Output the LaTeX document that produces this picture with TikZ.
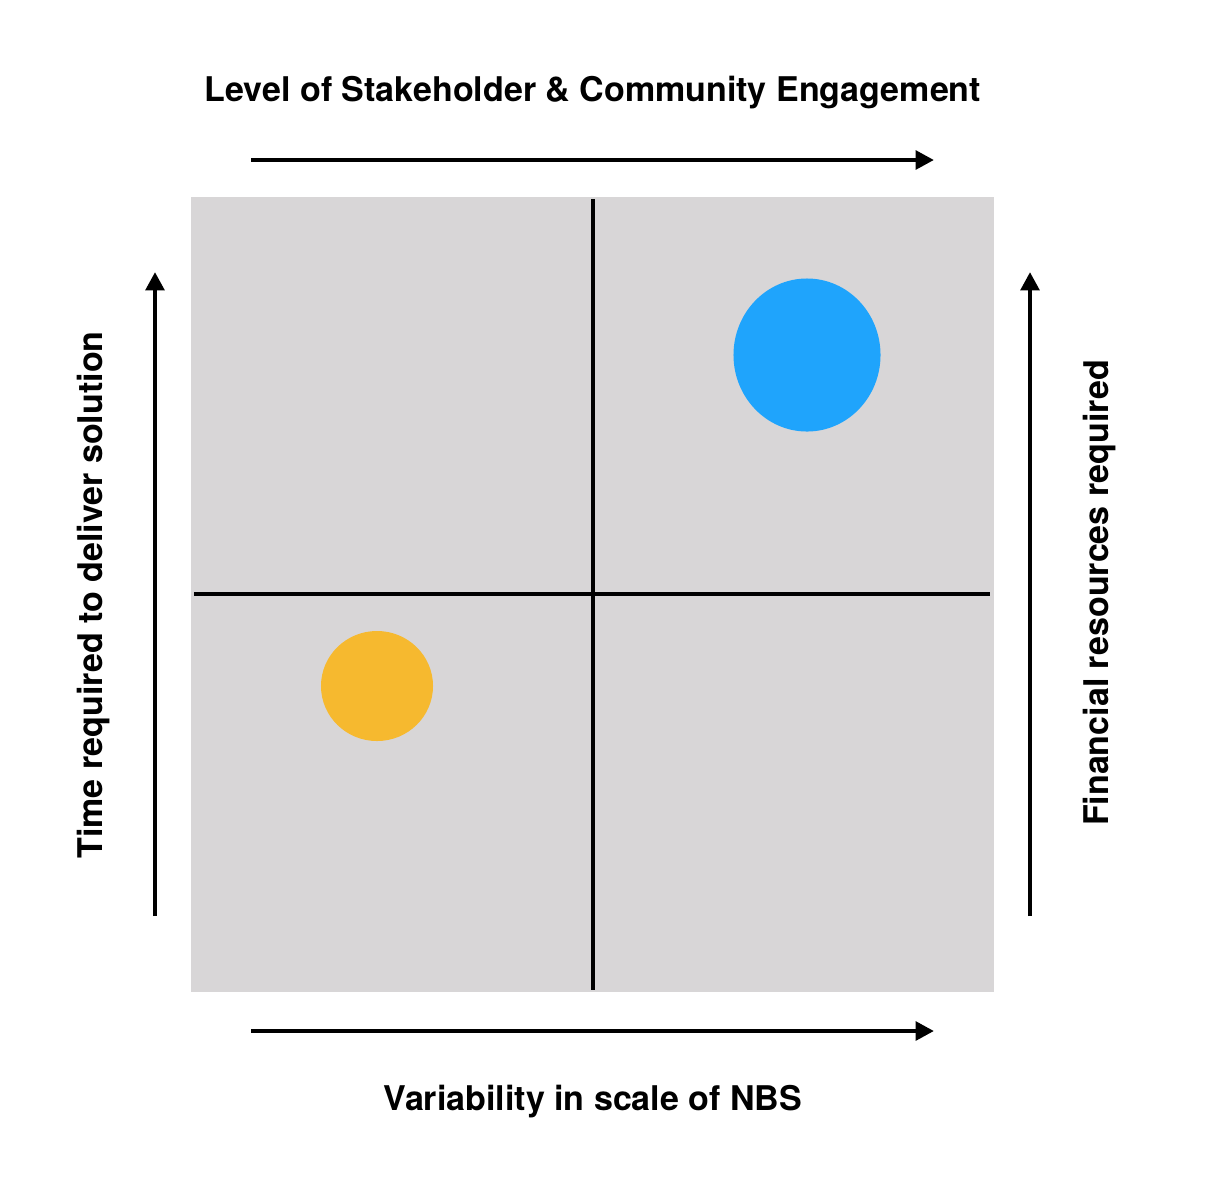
\documentclass[tikz,border=0pt]{standalone}
\usepackage{fontspec}
\setmainfont{TeX Gyre Heros}
\usepackage{tikz}
\usetikzlibrary{arrows.meta,shapes.geometric}
\definecolor{panel}{HTML}{D8D6D7}
\definecolor{dotblue}{HTML}{1FA4FC}
\definecolor{dotorange}{HTML}{F6B92F}
\tikzset{%
  axis/.style   = {line width=3.2pt, -{Triangle[length=13pt,width=13pt]}},
  cross/.style  = {line width=2.2pt},
  label/.style  = {font=\fontsize{24.2}{29}\selectfont\bfseries, inner sep=0pt},
  dot/.style    = {ellipse, inner sep=0pt}
}
\begin{document}
\begin{tikzpicture}[x=0.025cm, y=-0.025cm]
\useasboundingbox (0,0) rectangle (1214,1186);
% quadrant panel
\fill[panel] (191,197) rectangle (994,992);
\draw[cross] (593,199) -- (593,990);
\draw[cross] (194,594) -- (990,594);
% dots
\node[dot, fill=dotblue, minimum width=3.675cm, minimum height=3.825cm] (NBSbig) at (807,355) {};
\node[dot, fill=dotorange, minimum width=2.8cm, minimum height=2.75cm] (NBSsmall) at (377,686) {};
% axis ends
\coordinate (topL) at (251,160);
\coordinate (topR) at (934,160);
\coordinate (botL) at (251,1031);
\coordinate (botR) at (934,1031);
\coordinate (lftB) at (155,916);
\coordinate (lftT) at (155,272);
\coordinate (rgtB) at (1030,916);
\coordinate (rgtT) at (1030,272);
\draw[axis] (topL) -- (topR);
\draw[axis] (botL) -- (botR);
\draw[axis] (lftB) -- (lftT);
\draw[axis] (rgtB) -- (rgtT);
% labels
\node[label] (engage) at (593,93) {Level of Stakeholder \& Community Engagement};
\node[label] (scale) at (593,1102) {Variability in scale of NBS};
\node[label, rotate=90] (time) at (94,595) {Time required to deliver solution};
\node[label, rotate=90] (money) at (1100,593) {Financial resources required};
\end{tikzpicture}
\end{document}
